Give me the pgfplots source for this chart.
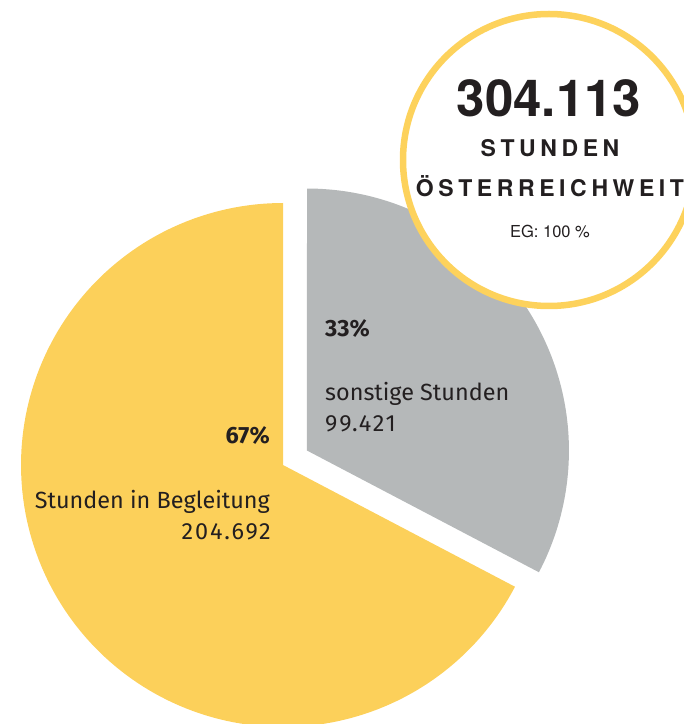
\documentclass[border=0pt]{standalone}
\usepackage{pgfplots}
\pgfplotsset{compat=1.18}
\usepackage{pgfplotstable}
\usepackage{fontspec}
\setmainfont{Fira Sans}
\newfontfamily\numfont[LetterSpace=8]{Fira Sans}
\newfontfamily\heros{TeX Gyre Heros}
\newfontfamily\herosspaced[LetterSpace=20]{TeX Gyre Heros}
\definecolor{pieyellow}{HTML}{FCD05A}
\definecolor{piegray}{HTML}{B5B8B9}
\definecolor{ringyellow}{HTML}{FDD25C}
\definecolor{txt}{HTML}{231F20}

% values in thousand hours
\pgfplotstableread{
label value
Begleitung 204.692
sonstige 99.421
}\piedata
\pgfplotstablegetelem{0}{value}\of\piedata \let\va\pgfplotsretval
\pgfplotstablegetelem{1}{value}\of\piedata \let\vb\pgfplotsretval
\pgfmathsetmacro\pfrac{\va/(\va+\vb)}
\pgfmathsetmacro\endA{90+360*\pfrac}
\pgfmathsetmacro\midB{(\endA+450)/2}
\pgfmathsetmacro\gx{283+28*cos(\midB)}
\pgfmathsetmacro\gy{259+28*sin(\midB)}

\begin{document}
\begin{tikzpicture}
\begin{axis}[scale only axis, width=684pt, height=724pt,
  xmin=0, xmax=684, ymin=0, ymax=724, hide axis, clip=true]
% yellow slice
\addplot[fill=pieyellow, draw=none, domain=90:\endA, samples=160]
  ({283+262*cos(x)},{259+262*sin(x)}) -- (axis cs:283,259) -- cycle;
% gray slice (exploded)
\addplot[fill=piegray, draw=none, domain=\endA:450, samples=100]
  ({\gx+262*cos(x)},{\gy+262*sin(x)}) -- (axis cs:\gx,\gy) -- cycle;
% total circle
\draw[line width=6.5pt, draw=ringyellow, fill=white] (axis cs:549,564) circle[radius=146pt];
% labels
\node[anchor=base west, text=txt, font=\fontsize{23.5}{26}\selectfont\bfseries, inner sep=0pt] at (axis cs:325,387) {33\%};
\node[anchor=base west, text=txt, font=\fontsize{23.4}{26}\selectfont, inner sep=0pt] at (axis cs:325,323) {sonstige Stunden};
\node[anchor=base west, text=txt, font=\numfont\fontsize{23.4}{26}\selectfont, inner sep=0pt] at (axis cs:325,292) {99.421};
\node[anchor=base east, text=txt, font=\fontsize{23.5}{26}\selectfont\bfseries, inner sep=0pt] at (axis cs:270,280) {67\%};
\node[anchor=base east, text=txt, font=\fontsize{23.4}{26}\selectfont, inner sep=0pt] at (axis cs:270,215) {Stunden in Begleitung};
\node[anchor=base east, text=txt, font=\numfont\fontsize{23.4}{26}\selectfont, inner sep=0pt] at (axis cs:271,184) {204.692};
\node[anchor=base, text=txt, font=\heros\fontsize{51}{56}\selectfont\bfseries, inner sep=0pt] at (axis cs:549,607) {304.113};
\node[anchor=base, text=txt, font=\herosspaced\fontsize{23}{26}\selectfont\bfseries, inner sep=0pt] at (axis cs:550,567) {STUNDEN};
\node[anchor=base, text=txt, font=\herosspaced\fontsize{23}{26}\selectfont\bfseries, inner sep=0pt] at (axis cs:550,527) {ÖSTERREICHWEIT};
\node[anchor=base, text=txt, font=\heros\fontsize{16.5}{19}\selectfont, inner sep=0pt] at (axis cs:550,486) {EG: 100 \%};
\end{axis}
\pgfresetboundingbox
\useasboundingbox (current axis.south west) rectangle (current axis.north east);
\end{tikzpicture}
\end{document}
